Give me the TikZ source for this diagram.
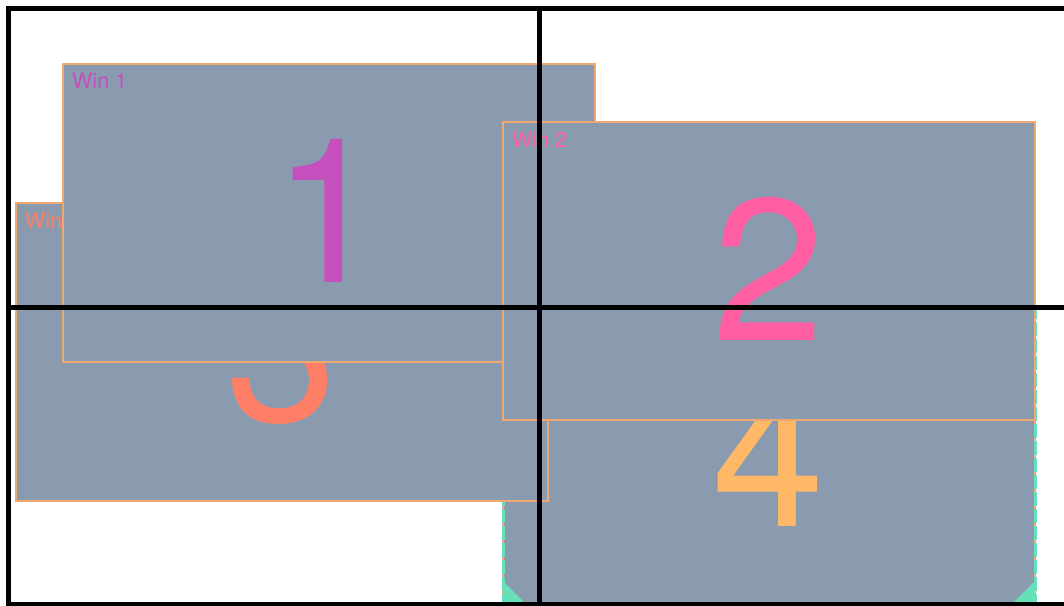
\documentclass[tikz,border=0pt]{standalone}
\usepackage{fontspec}
\setmainfont{TeX Gyre Heros}
\definecolor{winfill}{HTML}{8A9BB0}
\definecolor{winborder}{HTML}{EEA870}
\definecolor{cone}{HTML}{C64FBE}
\definecolor{ctwo}{HTML}{FF5FA2}
\definecolor{cthree}{HTML}{FF7F66}
\definecolor{cfour}{HTML}{FFB966}
\definecolor{grip}{HTML}{66E0B8}
\begin{document}
\begin{tikzpicture}[x=1pt,y=-1pt,
  win/.style={draw=winborder, fill=winfill, line width=1.5pt, minimum width=532pt, minimum height=298pt, inner sep=0pt, outer sep=0pt, anchor=north west},
  digit/.style={inner sep=0pt, anchor=base, font=\fontsize{202}{202}\selectfont},
  lab/.style={inner sep=0pt, anchor=base west, font=\fontsize{21.5}{22}\selectfont},
  gridline/.style={line width=4.6pt, black},
  seldash/.style={draw=grip, line width=3pt, dash pattern=on 14pt off 3pt}]
\useasboundingbox (0,0) rectangle (1064,605);
\clip (0,0) rectangle (1064,605);
\fill[white] (0,0) rectangle (1064,605);
% Win 4 (bottom-most, selected)
\node[win] (w4) at (503,305) {};
\draw[seldash] (w4.north west) -- (w4.south west);
\draw[seldash] (w4.north east) -- (w4.south east);
\fill[grip] (w4.south west) ++(0,-22) coordinate (g1a) -- (w4.south west) -- ++(22,0) coordinate (g1b) -- cycle;
\fill[grip] (w4.south east) ++(0,-22) coordinate (g2a) -- (w4.south east) -- ++(-22,0) coordinate (g2b) -- cycle;
\node[digit, text=cfour] (d4) at (769,526) {4};
% Win 3
\node[win] (w3) at (16,203) {};
\node[lab, text=cthree] (l3) at (25,228) {Win};
\node[digit, text=cthree] (d3) at (282,421) {3};
% Win 1
\node[win] (w1) at (63,64) {};
\node[lab, text=cone] (l1) at (72,88) {Win 1};
\node[digit, text=cone] (d1) at (329,282) {1};
% Win 2
\node[win] (w2) at (503,122) {};
\node[lab, text=ctwo] (l2) at (512,147) {Win 2};
\node[digit, text=ctwo] (d2) at (769,340) {2};
% monitor grid
\coordinate (tl) at (8.5,8.5);
\coordinate (tr) at (1070,8.5);
\coordinate (bl) at (8.5,604.5);
\coordinate (br) at (1070,604.5);
\coordinate (tm) at (539.5,8.5);
\coordinate (bm) at (539.5,610);
\coordinate (ml) at (8.5,307.5);
\coordinate (mr) at (1070,307.5);
\draw[gridline] (tr) -- (tl) -- (bl) -- (br);
\draw[gridline] (tm) -- (bm);
\draw[gridline] (ml) -- (mr);
\end{tikzpicture}
\end{document}
